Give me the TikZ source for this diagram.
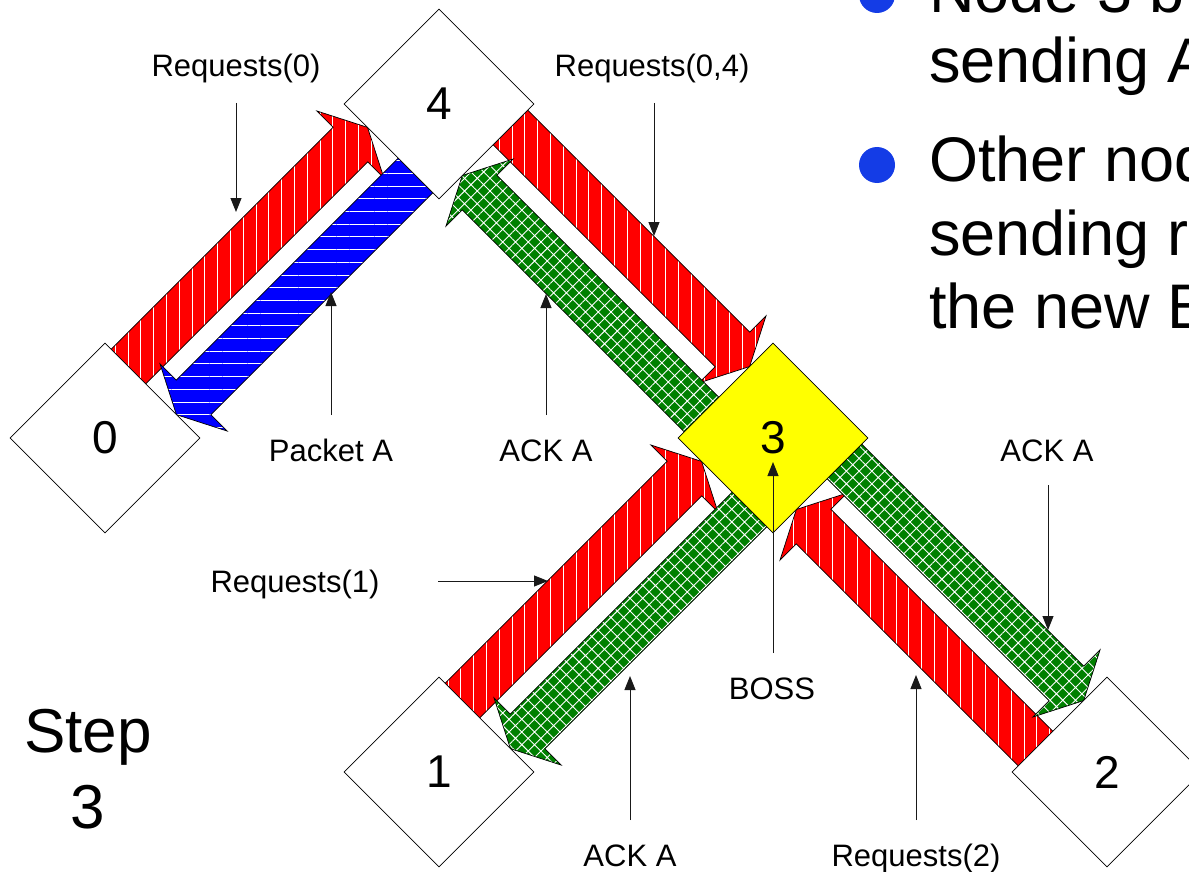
\documentclass[tikz,border=0pt]{standalone}
\usepackage{fontspec}
\setmainfont{Liberation Sans}
\usetikzlibrary{shapes.geometric,arrows.meta,patterns.meta}
\pgfdeclarelayer{bg}
\pgfsetlayers{bg,main}
\definecolor{reqred}{RGB}{255,0,0}
\definecolor{pktblue}{RGB}{0,0,255}
\definecolor{ackgreen}{RGB}{0,128,0}
\definecolor{bossyellow}{RGB}{255,255,0}
\definecolor{bulletblue}{RGB}{20,60,230}
% two parallel block arrows between named nodes #1 and #2
% #3: style of the arrow #1 -> #2, #4: style of the arrow #2 -> #1
\newcommand\twoarrows[4]{%
  \pgfmathanglebetweenpoints{\pgfpointanchor{#1}{center}}{\pgfpointanchor{#2}{center}}%
  \let\linkangle\pgfmathresult
  \begin{scope}[shift={(#1)},rotate=\linkangle]
    \path[#3] (67,-9.5) -- (381,-9.5) -- (381,13.5) -- (405.3,-34) -- (381,-81.5) -- (381,-58.5) -- (67,-58.5) -- cycle;
    \path[#4] (405.3,9.5) -- (91.3,9.5) -- (91.3,-13.5) -- (67,34) -- (91.3,81.5) -- (91.3,58.5) -- (405.3,58.5) -- cycle;
  \end{scope}}
\begin{document}
\begin{tikzpicture}[x=1pt,y=-1pt,
  netnode/.style={diamond, draw=black, line width=0.8pt, fill=white,
    minimum width=190pt, minimum height=190pt, inner sep=0pt,
    font=\fontsize{46}{50}\selectfont},
  blockout/.style={draw=black, line width=0.7pt},
  reqarrow/.style={blockout, preaction={fill=reqred},
    pattern={Lines[angle=90,distance=12.8pt,line width=1pt]}, pattern color=white},
  pktarrow/.style={blockout, preaction={fill=pktblue},
    pattern={Lines[angle=0,distance=12.7pt,line width=1pt]}, pattern color=white},
  ackarrow/.style={blockout, preaction={fill=ackgreen},
    pattern={Hatch[angle=45,distance=9pt,line width=0.9pt]}, pattern color=white},
  lbl/.style={font=\fontsize{31}{36}\selectfont, inner sep=0pt, anchor=base},
  big/.style={font=\fontsize{62}{70}\selectfont, inner sep=0pt, anchor=base},
  bullettext/.style={font=\fontsize{63}{72}\selectfont, inner sep=0pt, anchor=base west},
  ptr/.style={draw=black!90, line width=1pt, -{Triangle[length=14pt,width=11pt]}}
]
\useasboundingbox (0,0) rectangle (1189,872);

% network nodes
\node[netnode] (n0) at (105,438) {0};
\node[netnode] (n4) at (439,104) {4};
\node[netnode, fill=bossyellow] (n3) at (773,438) {3};
\node[netnode] (n1) at (439,772) {1};
\node[netnode] (n2) at (1107,772) {2};

% block arrows behind the nodes
\begin{pgfonlayer}{bg}
  \twoarrows{n0}{n4}{reqarrow}{pktarrow}
  \twoarrows{n4}{n3}{reqarrow}{ackarrow}
  \twoarrows{n1}{n3}{reqarrow}{ackarrow}
  \twoarrows{n2}{n3}{reqarrow}{ackarrow}
\end{pgfonlayer}

% labels
\node[lbl] (lr0) at (236,77) {Requests(0)};
\node[lbl] (lr04) at (652,77) {Requests(0,4)};
\node[lbl] (lpa) at (331,461) {Packet A};
\node[lbl] (la4) at (546,461) {ACK A};
\node[lbl] (la2) at (1047,461) {ACK A};
\node[lbl] (lr1) at (295,592) {Requests(1)};
\node[lbl] (lboss) at (772,699) {BOSS};
\node[lbl] (la1) at (630,866) {ACK A};
\node[lbl] (lr2) at (916,866) {Requests(2)};

% pointer lines
\coordinate (pr0s) at (236,103);  \coordinate (pr0e) at (236,212);
\coordinate (pr04s) at (654,103); \coordinate (pr04e) at (654,236);
\coordinate (ppas) at (331,415);  \coordinate (ppae) at (331,292);
\coordinate (pa4s) at (546,415);  \coordinate (pa4e) at (546,294);
\coordinate (pa2s) at (1048,485); \coordinate (pa2e) at (1048,630);
\coordinate (pr1s) at (438,581);  \coordinate (pr1e) at (548,581);
\coordinate (pbs) at (773,653);   \coordinate (pbe) at (773,462);
\coordinate (pa1s) at (630,820);  \coordinate (pa1e) at (630,676);
\coordinate (pr2s) at (916,820);  \coordinate (pr2e) at (916,675);
\draw[ptr] (pr0s) -- (pr0e);
\draw[ptr] (pr04s) -- (pr04e);
\draw[ptr] (ppas) -- (ppae);
\draw[ptr] (pa4s) -- (pa4e);
\draw[ptr] (pa2s) -- (pa2e);
\draw[ptr] (pr1s) -- (pr1e);
\draw[ptr] (pbs) -- (pbe);
\draw[ptr] (pa1s) -- (pa1e);
\draw[ptr] (pr2s) -- (pr2e);

% step text
\node[big] (step) at (88,752) {Step};
\node[big] (stepn) at (88,828) {3};

% bullet text (cut by the right edge, as in the reference)
\fill[bulletblue] (877,-5) circle (18);
\fill[bulletblue] (877,165) circle (18);
\node[bullettext] (t1) at (929,13) {Node 3 b};
\node[bullettext] (t2) at (929,83) {sending A};
\node[bullettext] (t3) at (929,182) {Other nod};
\node[bullettext] (t4) at (929,255) {sending r};
\node[bullettext] (t5) at (929,328) {the new B};
\end{tikzpicture}
\end{document}
